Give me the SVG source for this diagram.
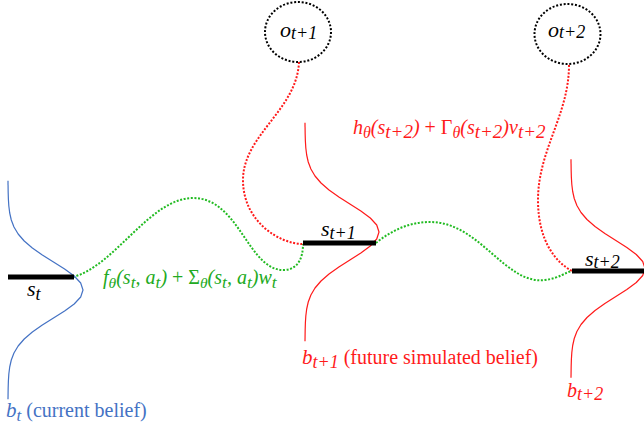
<svg xmlns="http://www.w3.org/2000/svg" xmlns:xlink="http://www.w3.org/1999/xlink" width="644" height="428" viewBox="0 0 644 428">
<style>
text{font-family:"Liberation Serif","Times New Roman",serif;font-size:20px}
.it{font-style:italic}
.rm{font-style:normal}
.blk{fill:#000}
.grn{fill:#22aa22}
.red{fill:#ff1a1a}
.blu{fill:#4472c4}
.bell{fill:none;stroke-width:1.2;stroke-linejoin:round}
.bar{stroke:#000;stroke-width:5}
.gdot{fill:none;stroke:#22bb22;stroke-width:2;stroke-dasharray:2 1.6}
.rdot{fill:none;stroke:#ff1a1a;stroke-width:2;stroke-dasharray:2 1.6}
.obs{fill:none;stroke:#000;stroke-width:2;stroke-dasharray:2 1.8}
.lbl{font-size:22px}
.sub{font-size:18px}
</style>
<defs>
<path id="gauss" vector-effect="non-scaling-stroke" d="M0,-3.9 L0.0003,-3.75 0.0009,-3.75 0.0022,-3.5 0.0051,-3.25 0.0111,-3 0.0228,-2.75 0.0439,-2.5 0.0796,-2.25 0.1353,-2 0.2163,-1.75 0.3247,-1.5 0.4578,-1.25 0.6065,-1 0.7548,-0.75 0.8825,-0.5 0.9692,-0.25 1,0 0.9692,0.25 0.8825,0.5 0.7548,0.75 0.6065,1 0.4578,1.25 0.3247,1.5 0.2163,1.75 0.1353,2 0.0796,2.25 0.0439,2.5 0.0228,2.75 0.0111,3 0.0051,3.25 0.0022,3.5 0.0009,3.75 0,3.9"/>
</defs>

<g id="connectors">
<path class="gdot" d="M73,277 C115,266 150,198 193,198 C240,198 248,272 285,270 C298,269 303,258 303,244"/>
<path class="gdot" d="M376,243 C392,230 410,222 430,222 C480,222 505,285 545,280 C560,278 566,272 572,271"/>
<path class="rdot" d="M299,62 C297,110 243,135 243,180 C243,222 280,244 303,244"/>
<path class="rdot" d="M569,65 C569,115 538,150 538,200 C538,240 555,262 572,271"/>
</g>

<g id="belief-t">
<use xlink:href="#gauss" class="bell" stroke="#4472c4" transform="translate(8,290) scale(75,28)"/>
<line class="bar" x1="8" y1="277" x2="74" y2="277"/>
<text x="27" y="296" class="it blk lbl">s<tspan class="sub" dy="4">t</tspan></text>
<text x="6" y="417" class="blu"><tspan class="it" font-size="21">b</tspan><tspan class="it" font-size="17" dy="4">t</tspan><tspan dy="-4"> (current belief)</tspan></text>
</g>

<g id="belief-t1">
<use xlink:href="#gauss" class="bell" stroke="#ff1a1a" transform="translate(305,232) scale(74,28)"/>
<line class="bar" x1="303" y1="243" x2="376" y2="243"/>
<text x="321" y="236" class="it blk lbl">s<tspan class="sub" dy="3">t+1</tspan></text>
<text x="302" y="364" class="red" font-size="20.4"><tspan class="it" font-size="21">b</tspan><tspan class="it" font-size="18" dy="4">t+1</tspan><tspan dy="-4"> (future simulated belief)</tspan></text>
</g>

<g id="belief-t2">
<use xlink:href="#gauss" class="bell" stroke="#ff1a1a" transform="translate(571,268.5) scale(74,28)"/>
<line class="bar" x1="572" y1="271" x2="644" y2="271"/>
<text x="585" y="266" class="it blk lbl">s<tspan class="sub" dy="2">t+2</tspan></text>
<text x="567" y="397" class="it red" font-size="21">b<tspan font-size="18" dy="3">t+2</tspan></text>
</g>

<g id="obs-t1">
<ellipse class="obs" cx="298" cy="32" rx="33" ry="30"/>
<text x="280" y="37" class="it blk lbl">o<tspan class="sub" dy="2">t+1</tspan></text>
</g>

<g id="obs-t2">
<ellipse class="obs" cx="567.5" cy="34" rx="33" ry="30"/>
<text x="548" y="37" class="it blk lbl">o<tspan class="sub" dy="1">t+2</tspan></text>
</g>

<g id="transition-label">
<text x="103" y="284" class="it grn" font-size="22">f<tspan font-size="15.5" dy="4">θ</tspan><tspan dy="-4">(s</tspan><tspan font-size="17.5" dy="4">t</tspan><tspan dy="-4">, a</tspan><tspan font-size="17.5" dy="4">t</tspan><tspan dy="-4">)</tspan><tspan class="rm"> + Σ</tspan><tspan font-size="15.5" dy="4">θ</tspan><tspan dy="-4">(s</tspan><tspan font-size="17.5" dy="4">t</tspan><tspan dy="-4">, a</tspan><tspan font-size="17.5" dy="4">t</tspan><tspan dy="-4">)w</tspan><tspan font-size="17.5" dy="4">t</tspan></text>
</g>

<g id="observation-label">
<text x="353" y="134" class="it red" font-size="22.5">h<tspan font-size="16" dy="4">θ</tspan><tspan dy="-4">(s</tspan><tspan font-size="19" dy="4">t+2</tspan><tspan dy="-4">)</tspan><tspan class="rm"> + Γ</tspan><tspan font-size="16" dy="4">θ</tspan><tspan dy="-4">(s</tspan><tspan font-size="19" dy="4">t+2</tspan><tspan dy="-4">)v</tspan><tspan font-size="19" dy="4">t+2</tspan></text>
</g>
</svg>
